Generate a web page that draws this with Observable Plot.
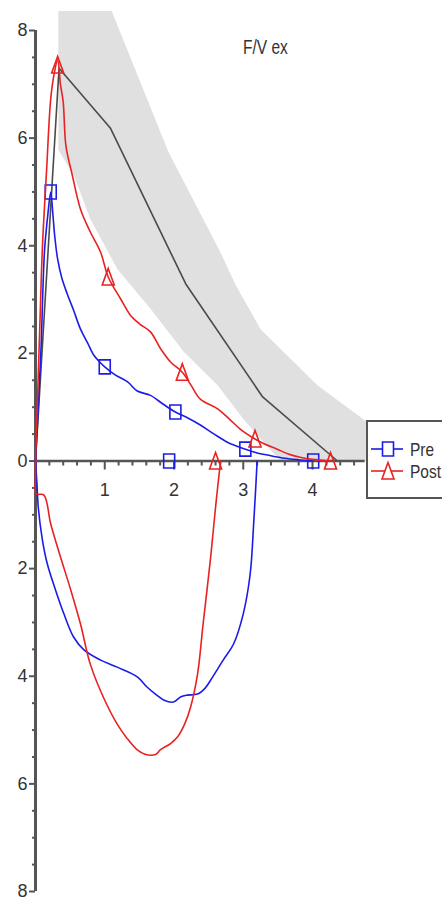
<!DOCTYPE html>
<html>
<head>
<meta charset="utf-8">
<script src="https://cdn.jsdelivr.net/npm/d3@7"></script>
<script src="https://cdn.jsdelivr.net/npm/@observablehq/plot@0.6"></script>
<style>
  html, body { margin: 0; padding: 0; background: #fff; }
  #wrap { position: relative; width: 442px; height: 900px; overflow: hidden; font-family: "Liberation Sans", Arial, sans-serif; }
  #title { position: absolute; left: 243px; top: 36px; font-size: 15.5px; color: #333; transform: scale(1, 1.3); transform-origin: left top; white-space: nowrap; }
  #legend { position: absolute; left: 366px; top: 420px; width: 100px; height: 79px; border: 2px solid #555; background: #fff; box-sizing: border-box; }
</style>
</head>
<body>
<div id="wrap">
  <div id="chart"></div>
  <div id="title"></div>
  <div id="legend"></div>
</div>
<script>
// ---------- data ----------
const titleText = "F/V ex";
const seriesNames = ["Pre", "Post"];
const seriesColors = ["#1c1ce8", "#e82222"];

// predicted flow-volume line (volume L, flow L/s)
const predX = [0, 0.34, 1.08, 2.17, 3.28, 4.36];
const predY = [0, 7.3, 6.19, 3.29, 1.19, 0];

// predicted range band: lower/left edge (top->bottom), upper/right edge (top->bottom)
const bandLowerX = [0.33, 0.33, 0.55, 0.79, 1.18, 1.66, 2.14, 2.63, 3.00, 3.25, 3.54];
const bandLowerY = [8.6, 5.78, 5.32, 4.50, 3.57, 2.83, 2.03, 1.41, 0.78, 0.41, 0];
const bandUpperX = [1.02, 1.11, 1.92, 2.67, 2.89, 3.25, 3.58, 4.07, 4.73, 5.55];
const bandUpperY = [8.6, 8.33, 5.74, 3.88, 3.27, 2.45, 2.03, 1.41, 0.78, 0];

// Pre: expiratory limb
const preExpX = [0, 0.04, 0.08, 0.13, 0.18, 0.22, 0.25, 0.28, 0.32, 0.38, 0.46, 0.55, 0.65, 0.75, 0.84, 0.92, 1.0, 1.15, 1.33, 1.47, 1.66, 1.85, 2.02, 2.2, 2.38, 2.58, 2.77, 2.9, 3.03, 3.2, 3.35, 3.6, 3.82, 4.01];
const preExpY = [0, 1.0, 2.1, 3.9, 4.6, 5.0, 4.6, 4.15, 3.75, 3.4, 3.1, 2.8, 2.45, 2.2, 1.97, 1.85, 1.75, 1.6, 1.47, 1.3, 1.22, 1.05, 0.91, 0.8, 0.67, 0.5, 0.35, 0.28, 0.22, 0.15, 0.11, 0.05, 0.02, 0];
// Pre: inspiratory limb (flow negative)
const preInsX = [0, 0.02, 0.04, 0.1, 0.17, 0.29, 0.41, 0.55, 0.7, 0.94, 1.18, 1.47, 1.61, 1.75, 1.85, 1.99, 2.1, 2.19, 2.34, 2.45, 2.53, 2.71, 2.86, 3.0, 3.1, 3.15, 3.18, 3.2];
const preInsY = [0, -0.4, -0.86, -1.47, -1.91, -2.4, -2.84, -3.27, -3.51, -3.7, -3.83, -4.01, -4.2, -4.35, -4.44, -4.48, -4.38, -4.35, -4.33, -4.22, -4.07, -3.7, -3.4, -2.84, -2.1, -1.17, -0.5, 0];
const preMarkX = [0.22, 1.0, 2.02, 3.03, 4.01, 1.93];
const preMarkY = [5.0, 1.75, 0.91, 0.22, 0, 0];

// Post: expiratory limb
const postExpX = [0, 0.03, 0.06, 0.1, 0.16, 0.22, 0.27, 0.32, 0.36, 0.40, 0.44, 0.53, 0.65, 0.79, 0.94, 1.05, 1.23, 1.37, 1.5, 1.66, 1.8, 1.95, 2.12, 2.25, 2.38, 2.63, 2.8, 2.96, 3.17, 3.3, 3.49, 3.65, 3.82, 4.0, 4.26];
const postExpY = [0, 1.2, 2.4, 3.98, 5.4, 6.73, 7.2, 7.45, 7.0, 6.67, 5.85, 5.32, 4.68, 4.26, 3.88, 3.42, 3.01, 2.71, 2.55, 2.4, 2.1, 1.84, 1.65, 1.4, 1.15, 0.97, 0.78, 0.59, 0.41, 0.32, 0.22, 0.13, 0.07, 0.03, 0];
// Post: inspiratory limb
const postInsX = [0, 0, 0.01, 0.12, 0.22, 0.36, 0.51, 0.65, 0.79, 0.98, 1.18, 1.32, 1.47, 1.58, 1.74, 1.8, 1.95, 2.05, 2.15, 2.24, 2.34, 2.42, 2.53, 2.6, 2.67, 2.68];
const postInsY = [0, -0.3, -0.61, -0.63, -1.17, -1.78, -2.4, -3.03, -3.77, -4.39, -4.89, -5.15, -5.37, -5.45, -5.45, -5.37, -5.25, -5.13, -4.9, -4.57, -3.96, -3.03, -1.78, -0.86, -0.06, 0];
const postMarkX = [0.32, 1.05, 2.12, 3.17, 4.26, 2.6];
const postMarkY = [7.36, 3.42, 1.65, 0.41, 0, 0];

// axes ticks
const yMajorTicks = [-8, -6, -4, -2, 0, 2, 4, 6, 8];
const yTickLabels = ["8", "6", "4", "2", "0", "2", "4", "6", "8"];
const xMajorTicks = [1, 2, 3, 4];
const xTickLabels = ["1", "2", "3", "4"];
const yMinorStep = 0.5;
const xMinorStep = 0.2;
const xAxisEnd = 4.76;

// ---------- build ----------
const zip = (xs, ys) => xs.map((x, i) => ({x, y: ys[i]}));
const pred = zip(predX, predY);
const band = [...zip(bandLowerX, bandLowerY), ...zip(bandUpperX, bandUpperY).reverse()];
const preExp = zip(preExpX, preExpY), preIns = zip(preInsX, preInsY), preMarks = zip(preMarkX, preMarkY);
const postExp = zip(postExpX, postExpY), postIns = zip(postInsX, postInsY), postMarks = zip(postMarkX, postMarkY);

const yMinorTicks = d3.range(-8, 8 + 1e-9, yMinorStep).filter(v => Math.abs(v % 2) > 1e-9);
const xMinorTicks = d3.range(xMinorStep, xAxisEnd, xMinorStep).filter(v => Math.abs(v - Math.round(v)) > 1e-6);

const W = 442, H = 900, mL = 35, mT = 11;
const xMax = 5.877, yTop = 8.353, yBot = -8.167;
const pxPerY = (H - mT) / (yTop - yBot);

const tallSquare = {draw(ctx) { ctx.moveTo(-5.5, -7); ctx.lineTo(5.5, -7); ctx.lineTo(5.5, 7); ctx.lineTo(-5.5, 7); ctx.closePath(); }};
const tallTriangle = {draw(ctx) { ctx.moveTo(0, -8.5); ctx.lineTo(6, 8); ctx.lineTo(-6, 8); ctx.closePath(); }};

const axisColor = "#555";
const textColor = "#333";
const lineCurve = "catmull-rom";

const chart = Plot.plot({
  width: W, height: H,
  marginLeft: mL, marginRight: 0, marginTop: mT, marginBottom: 0,
  x: {domain: [0, xMax], axis: null},
  y: {domain: [yBot, yTop], axis: null},
  style: {background: "#fff", fontFamily: '"Liberation Sans", Arial, sans-serif'},
  marks: [
    Plot.line(band, {x: "x", y: "y", fill: "#e0e0e0", stroke: "none", clip: true}),
    Plot.line(pred, {x: "x", y: "y", stroke: "#4a4a4a", strokeWidth: 1.6}),
    // y axis
    Plot.ruleX([0], {y1: -8, y2: 8, stroke: axisColor, strokeWidth: 3}),
    Plot.axisY({anchor: "left", ticks: yMinorTicks, tickSize: 3, tickFormat: () => "", stroke: axisColor, strokeWidth: 2, label: null}),
    Plot.axisY({anchor: "left", ticks: yMajorTicks, tickSize: 6, tickPadding: 2,
      tickFormat: d => yTickLabels[yMajorTicks.indexOf(d)], fontSize: 18, stroke: axisColor, fill: textColor, strokeWidth: 2, label: null}),
    // x axis
    Plot.ruleY([0], {x1: 0, x2: xAxisEnd, stroke: axisColor, strokeWidth: 2.5}),
    Plot.ruleX(xMinorTicks, {x: d => d, y1: 0, y2: -5 / pxPerY, stroke: axisColor, strokeWidth: 2}),
    Plot.ruleX(xMajorTicks, {x: d => d, y1: 0, y2: -9 / pxPerY, stroke: axisColor, strokeWidth: 2}),
    Plot.text(xMajorTicks, {x: d => d, y: 0, dy: 29, text: (d, i) => xTickLabels[i], fontSize: 18, fill: textColor}),
    // Pre
    Plot.line(preExp, {x: "x", y: "y", stroke: seriesColors[0], strokeWidth: 1.6, curve: lineCurve}),
    Plot.line(preIns, {x: "x", y: "y", stroke: seriesColors[0], strokeWidth: 1.6, curve: lineCurve}),
    Plot.dot(preMarks, {x: "x", y: "y", symbol: tallSquare, stroke: seriesColors[0], strokeWidth: 1.6, fill: "none"}),
    // Post
    Plot.line(postExp, {x: "x", y: "y", stroke: seriesColors[1], strokeWidth: 1.6, curve: lineCurve}),
    Plot.line(postIns, {x: "x", y: "y", stroke: seriesColors[1], strokeWidth: 1.6, curve: lineCurve}),
    Plot.dot(postMarks, {x: "x", y: "y", symbol: tallTriangle, stroke: seriesColors[1], strokeWidth: 1.6, fill: "none"})
  ]
});
document.getElementById("chart").appendChild(chart);
document.getElementById("title").textContent = titleText;

// legend
const legendSvg = d3.create("svg").attr("width", 74).attr("height", 75);
const legendRows = [
  {name: seriesNames[0], color: seriesColors[0], y: 27, shape: "M-5.5,-7H5.5V7H-5.5Z"},
  {name: seriesNames[1], color: seriesColors[1], y: 49, shape: "M0,-8.5L6,8L-6,8Z"}
];
for (const r of legendRows) {
  legendSvg.append("line").attr("x1", 3).attr("x2", 35).attr("y1", r.y).attr("y2", r.y)
    .attr("stroke", r.color).attr("stroke-width", 1.6);
  legendSvg.append("path").attr("d", r.shape).attr("transform", `translate(20,${r.y})`)
    .attr("fill", "#fff").attr("stroke", r.color).attr("stroke-width", 1.6);
  legendSvg.append("text").attr("transform", `translate(42,${r.y + 6.5}) scale(0.86,1)`).attr("font-size", 18)
    .attr("font-family", '"Liberation Sans", Arial, sans-serif').attr("fill", textColor).text(r.name);
}
document.getElementById("legend").appendChild(legendSvg.node());
</script>
</body>
</html>
